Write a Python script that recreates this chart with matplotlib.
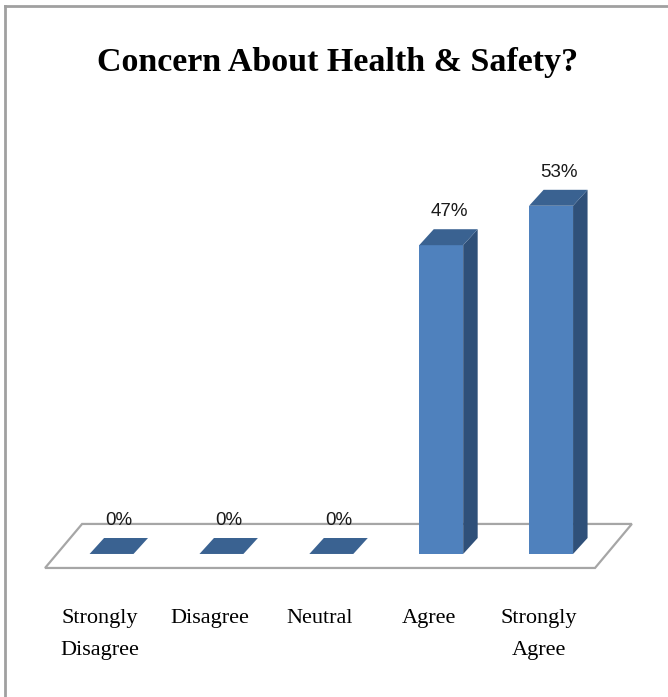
import matplotlib.pyplot as plt
from matplotlib.patches import Polygon
from matplotlib.lines import Line2D

categories = ["Strongly\nDisagree", "Disagree", "Neutral", "Agree", "Strongly\nAgree"]
values = [0, 0, 0, 47, 53]
value_labels = ["0%", "0%", "0%", "47%", "53%"]
title = "Concern About Health & Safety?"

front_col = "#4F81BD"
side_col = "#2F5079"
top_col = "#3A6291"

fig = plt.figure(figsize=(6.68, 6.97), dpi=100)
ax = fig.add_axes([0, 0, 1, 1])
ax.set_xlim(-1.015, 5.064)
ax.set_ylim(-21.77, 84.32)
ax.axis('off')

# 3D-like floor
floor = Polygon([(-0.605, -2.13), (4.40, -2.13), (4.735, 4.57), (-0.268, 4.57)],
                closed=True, facecolor="white", edgecolor="#A6A6A6", lw=1.6, zorder=1)
ax.add_patch(floor)

w = 0.4      # bar width
dx = 0.132   # depth offset in x
dy = 2.43    # depth offset in y

xs = list(range(len(values)))
ax.bar(xs, values, width=w, color=front_col, zorder=3, linewidth=0)
for x, v in zip(xs, values):
    l, r = x - w / 2, x + w / 2
    side = Polygon([(r, 0), (r + dx, dy), (r + dx, v + dy), (r, v)],
                   closed=True, facecolor=side_col, edgecolor="none", zorder=3)
    top = Polygon([(l, v), (r, v), (r + dx, v + dy), (l + dx, v + dy)],
                  closed=True, facecolor=top_col, edgecolor="none", zorder=4)
    ax.add_patch(side)
    ax.add_patch(top)

for x, v, lab in zip(xs, values, value_labels):
    ax.text(x + 0.07, v + dy + 1.4, lab, ha='center', va='bottom',
            fontsize=13.5, family='Liberation Sans', color="#1A1A1A", zorder=5)

for x, c in zip(xs, categories):
    ax.text(x - 0.11, -8.3, c, ha='center', va='top', fontsize=16,
            family='Liberation Serif', linespacing=1.95, multialignment='center')

fig.text(0.505, 0.91, title, ha='center', va='center', fontsize=24.5,
         family='Liberation Serif', fontweight='bold')

# outer frame (left and top)
fig.add_artist(Line2D([0.008, 0.008], [0, 0.992], transform=fig.transFigure,
                      color="#A0A0A0", lw=2))
fig.add_artist(Line2D([0.008, 1], [0.992, 0.992], transform=fig.transFigure,
                      color="#A0A0A0", lw=2))

fig.savefig("out.png", dpi=100)
